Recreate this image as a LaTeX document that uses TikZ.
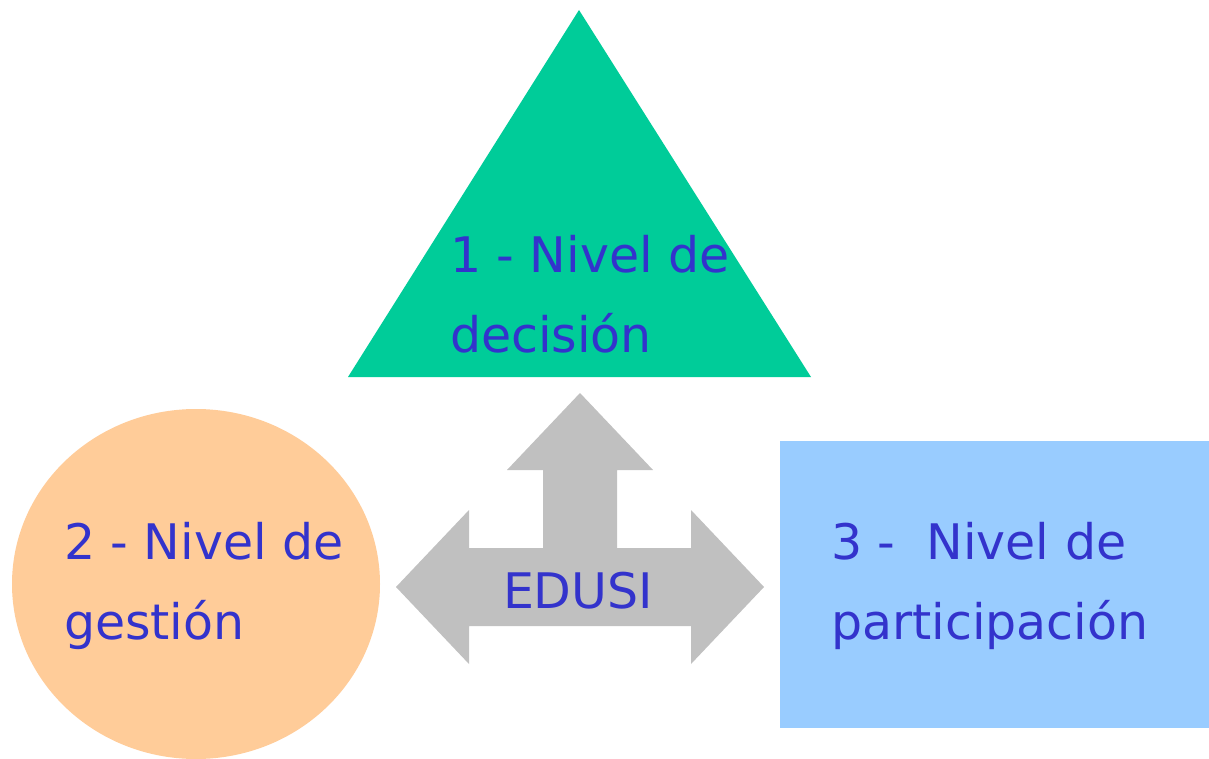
\documentclass[tikz,border=0pt]{standalone}
\usepackage{fontspec}
\setmainfont{DejaVu Sans}
\definecolor{trigreen}{HTML}{00CC99}
\definecolor{peach}{HTML}{FFCC99}
\definecolor{skyblue}{HTML}{99CCFF}
\definecolor{arrowgrey}{HTML}{C0C0C0}
\definecolor{txtblue}{HTML}{3333CC}
\begin{document}
\begin{tikzpicture}[x=1pt,y=-1pt,
  lbl/.style={anchor=base west,inner sep=0pt,outer sep=0pt,text=txtblue,align=left,
    font={\fontsize{49}{80}\selectfont}}]
\useasboundingbox (0,0) rectangle (1209,759);
\fill[white] (0,0) rectangle (1209,759);
% triangle
\fill[trigreen] (579,10) -- (811,377) -- (348,377) -- cycle;
% ellipse
\begin{scope}
\clip (0,0) rectangle (1209,759);
\fill[peach] (196,584) ellipse [x radius=184, y radius=175];
\end{scope}
% rectangle
\fill[skyblue] (780,441) rectangle (1209,728);
% three-way arrow
\fill[arrowgrey] (580,393) -- (653,470) -- (617,470) -- (617,548) -- (691,548) -- (691,510)
  -- (764,587) -- (691,664) -- (691,626) -- (469,626) -- (469,664) -- (396,587)
  -- (469,510) -- (469,548) -- (543,548) -- (543,470) -- (507,470) -- cycle;
% labels
\node[lbl] (t1) at (450,352) {1 - Nivel de\\decisión};
\node[lbl] (t2) at (64,639) {2 - Nivel de\\gestión};
\node[lbl] (t3) at (831,639) {3 -\ \ Nivel de\\participación};
\node[lbl] (t4) at (503,608) {EDUSI};
\end{tikzpicture}
\end{document}
